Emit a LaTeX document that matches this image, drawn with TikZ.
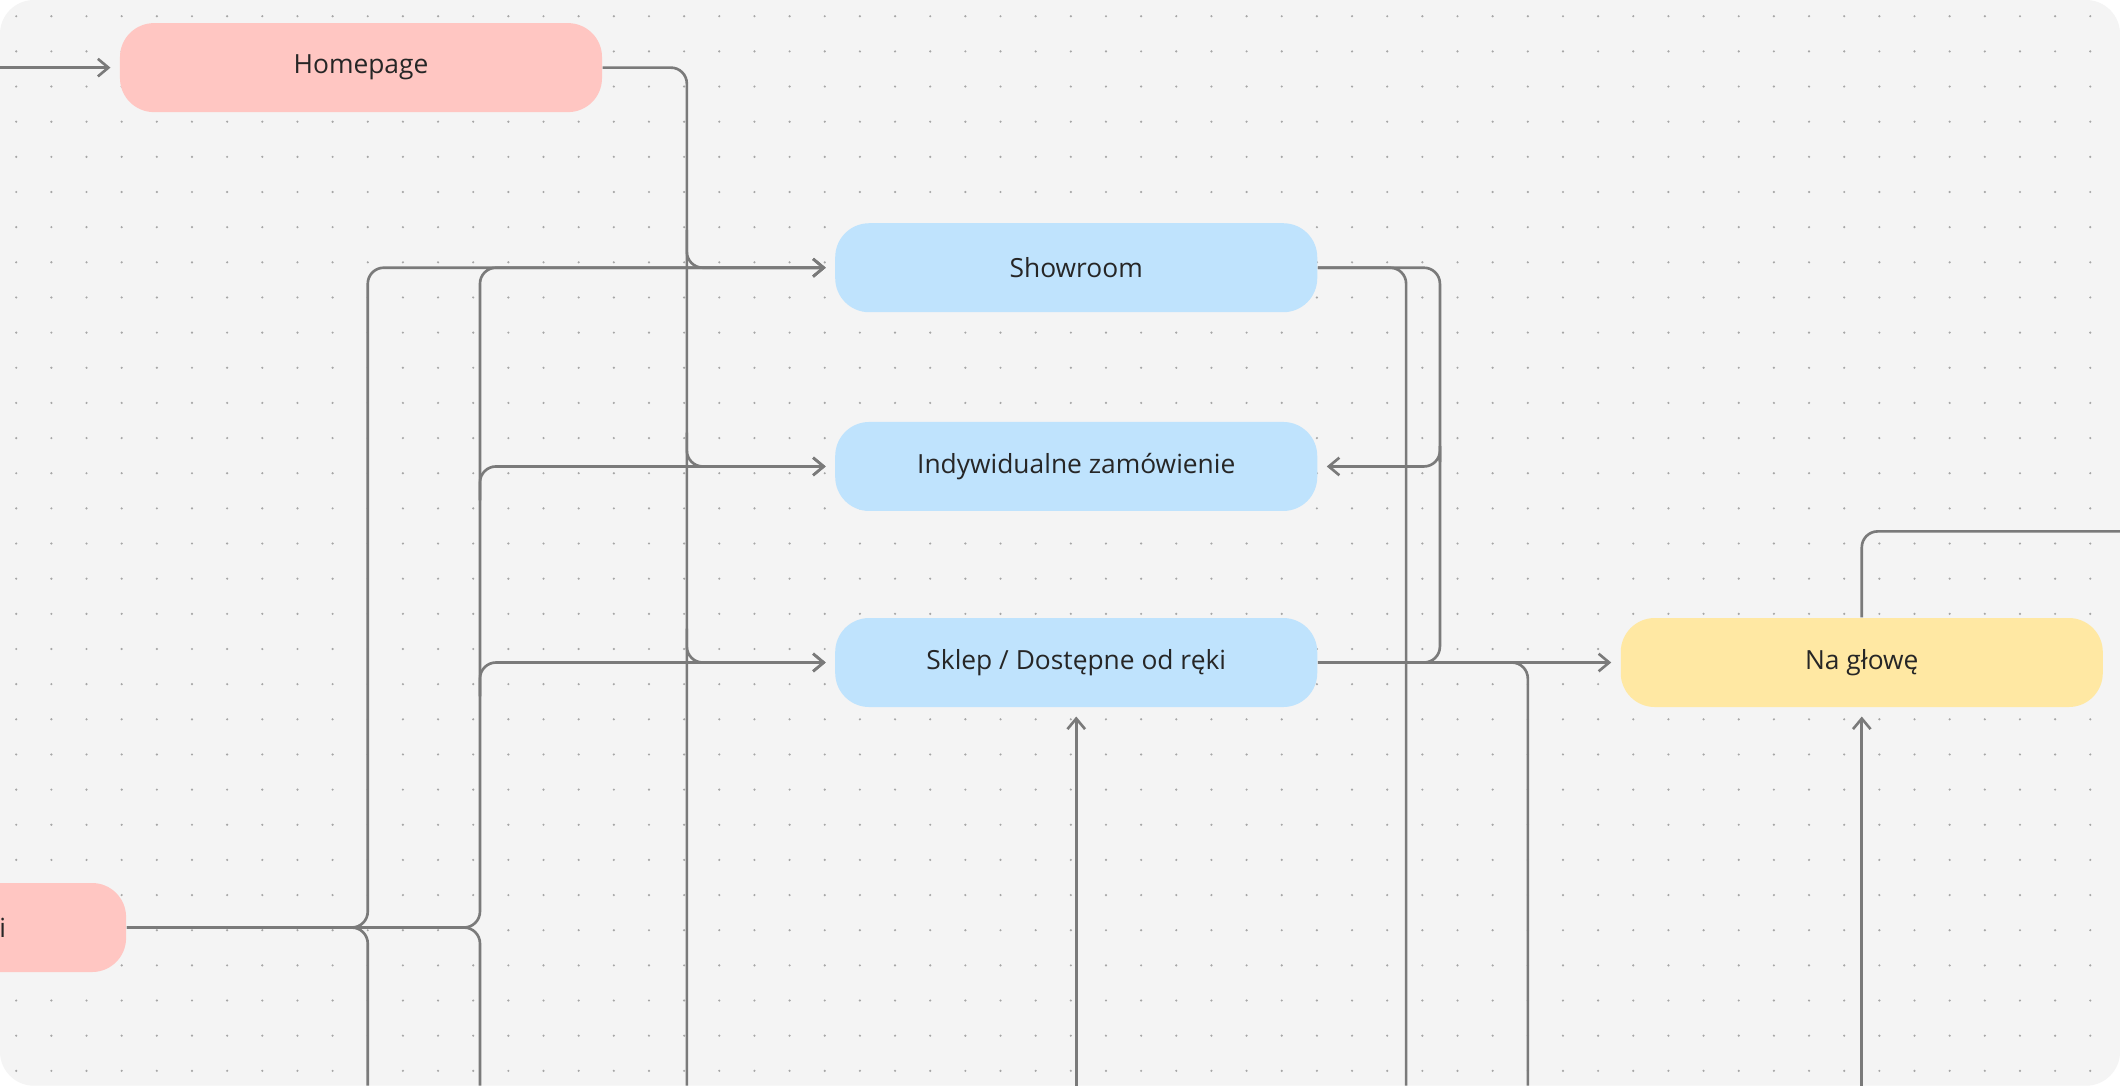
\documentclass[tikz,border=0pt]{standalone}
\usepackage{fontspec}
\setmainfont{Open Sans}
\usetikzlibrary{arrows.meta}
\definecolor{bgcol}{HTML}{F4F4F4}
\definecolor{pinkcol}{HTML}{FFC6C2}
\definecolor{bluecol}{HTML}{BFE3FD}
\definecolor{yellowcol}{HTML}{FFE8A3}
\definecolor{linecol}{HTML}{7A7A7A}
\tikzset{
  box/.style={rounded corners=3.4mm, minimum width=48.2mm, minimum height=8.9mm,
    inner sep=0pt, font=\fontsize{7.5}{9}\selectfont, text=black!85},
  line/.style={draw=linecol, line width=0.75pt, rounded corners=1.6mm},
  flow/.style={line, -{Straight Barb[length=3pt,width=5pt]}, shorten >=2.5pt}
}
\begin{document}
\begin{tikzpicture}[x=0.1352mm, y=-0.1352mm]
    \useasboundingbox (0,0) rectangle (1568,803);
    \clip (0,0) rectangle (1568,803);
    % Hintergrund
    \fill[white] (0,0) rectangle (1568,803);
    \fill[bgcol, rounded corners=3.4mm] (0,0) rectangle (1568,803);
    \foreach \i in {0,...,60}
      \foreach \j in {0,...,30}
        \fill[black!35] (12+26*\i,12+26*\j) circle (0.12mm);

    % Knoten
    \node[box, fill=pinkcol] (home) at (267,50) {Homepage};
    \node[box, fill=pinkcol] (left) at (-85,686) {};
    \node[font=\fontsize{7.5}{9}\selectfont, text=black!85, anchor=east, inner sep=0pt] (lefttxt) at (5,686) {i};
    \node[box, fill=bluecol] (show) at (796,198) {Showroom};
    \node[box, fill=bluecol] (indy) at (796,345) {Indywidualne zamówienie};
    \node[box, fill=bluecol] (sklep) at (796,490) {Sklep / Dostępne od ręki};
    \node[box, fill=yellowcol] (glowa) at (1377,490) {Na głowę};

    % freie Enden
    \coordinate (inL) at (0,50);
    \coordinate (b796) at (796,803);
    \coordinate (b1377) at (1377,803);
    \coordinate (outR) at (1568,393);

    % Homepage
    \draw[flow] (inL) -- (home.west);
    \draw[line] (home.east) -| (508,803);
    \draw[flow] (508,170) |- (show.west);
    \draw[flow] (508,320) |- (indy.west);
    \draw[flow] (508,465) |- (sklep.west);

    % linker Knoten
    \draw[flow] (left.east) -| (272,198) -- (show.west);
    \draw[line] (250,686) -| (272,803);
    \draw[flow] (left.east) -| (355,198) -- (show.west);
    \draw[flow] (355,370) |- (indy.west);
    \draw[flow] (355,515) |- (sklep.west);
    \draw[line] (335,686) -| (355,803);

    % rechte Seite
    \draw[line] (show.east) -| (1040,803);
    \draw[flow] (show.east) -| (1065,330) |- (indy.east);
    \draw[line] (1065,330) |- (1040,490);
    \draw[flow] (sklep.east) -- (glowa.west);
    \draw[line] (sklep.east) -| (1130,803);
    \draw[flow] (b796) -- (sklep.south);
    \draw[flow] (b1377) -- (glowa.south);
    \draw[line] (glowa.north) |- (outR);
\end{tikzpicture}
\end{document}
